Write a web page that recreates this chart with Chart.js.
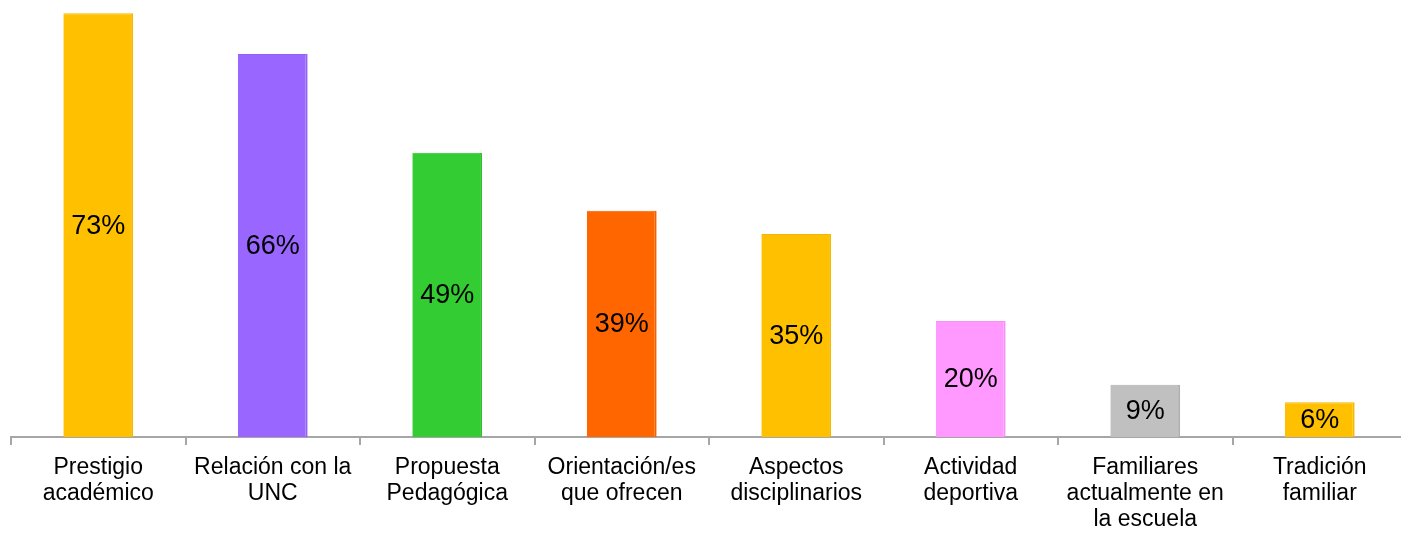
<!DOCTYPE html>
<html>
<head>
<meta charset="utf-8">
<script src="https://cdn.jsdelivr.net/npm/chart.js@4.4.1/dist/chart.umd.min.js"></script>
<style>
  html, body { margin: 0; padding: 0; background: #fff; overflow: hidden; }
  canvas { display: block; }
</style>
</head>
<body>
<canvas id="motivosChart" width="1410" height="533"></canvas>
<script>
// categorías (etiquetas en varias líneas)
const categorias = [
    ["Prestigio", "académico"],
    ["Relación con la", "UNC"],
    ["Propuesta", "Pedagógica"],
    ["Orientación/es", "que ofrecen"],
    ["Aspectos", "disciplinarios"],
    ["Actividad", "deportiva"],
    ["Familiares", "actualmente en", "la escuela"],
    ["Tradición", "familiar"],
];
const porcentajes = [73, 66, 49, 39, 35, 20, 9, 6];
const colores = ["#FFC000", "#9966FF", "#33CC33", "#FF6600", "#FFC000", "#FF99FF", "#C0C0C0", "#FFC000"];
const bordes  = ["#F5B800", "#9460F5", "#30C030", "#F56000", "#F5B800", "#F592F5", "#AFAFAF", "#F5B800"];

// etiquetas de valor dentro de cada barra
const valueLabels = {
    id: "valueLabels",
    afterDatasetsDraw(chart) {
        const ctx = chart.ctx;
        const meta = chart.getDatasetMeta(0);
        ctx.save();
        ctx.font = "27px 'Liberation Sans', Arial, sans-serif";
        ctx.fillStyle = "#000";
        ctx.textAlign = "center";
        ctx.textBaseline = "middle";
        meta.data.forEach((bar, i) => {
            ctx.fillText(porcentajes[i] + "%", bar.x, (bar.y + bar.base) / 2 + 1);
        });
        ctx.restore();
    },
};

new Chart(document.getElementById("motivosChart"), {
    type: "bar",
    data: {
        labels: categorias,
        datasets: [{
            data: porcentajes,
            backgroundColor: colores,
            borderColor: bordes,
            borderWidth: { right: 2, top: 1, left: 0, bottom: 0 },
            barPercentage: 0.4,
            categoryPercentage: 1.0,
        }],
    },
    options: {
        responsive: false,
        animation: false,
        layout: { padding: { left: 11, right: 3, top: 0, bottom: 0 } },
        plugins: { legend: { display: false }, tooltip: { enabled: false } },
        scales: {
            y: { display: false, min: 0, max: 75.3 },
            x: {
                offset: true,
                afterFit: (scale) => { scale.height = 96; },
                border: { display: true, color: "#A6A6A6", width: 2 },
                grid: {
                    offset: true,
                    drawOnChartArea: false,
                    drawTicks: true,
                    tickLength: 8,
                    color: "#A6A6A6",
                    lineWidth: 2,
                },
                ticks: {
                    autoSkip: false,
                    maxRotation: 0,
                    minRotation: 0,
                    padding: 10,
                    color: "#000",
                    font: { family: "'Liberation Sans', Arial, sans-serif", size: 23, lineHeight: 1.12 },
                },
            },
        },
    },
    plugins: [valueLabels],
});
</script>
</body>
</html>
